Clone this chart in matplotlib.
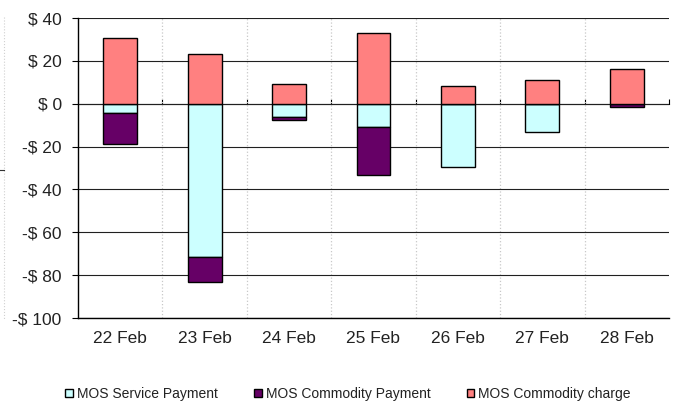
import numpy as np
import matplotlib
matplotlib.use("Agg")
from matplotlib import pyplot as plt
from matplotlib.ticker import FuncFormatter
from matplotlib.lines import Line2D

# data
days = ["22 Feb", "23 Feb", "24 Feb", "25 Feb", "26 Feb", "27 Feb", "28 Feb"]
service_payment = [-4.5, -71.5, -6.2, -11.0, -29.4, -13.2, -0.3]
commodity_payment = [-14.2, -11.8, -1.6, -22.1, 0.0, 0.0, -1.0]
commodity_charge = [30.8, 23.0, 9.2, 33.1, 8.1, 10.9, 16.3]

series = [
    ("MOS Service Payment", service_payment, "#CCFFFF"),
    ("MOS Commodity Payment", commodity_payment, "#660066"),
    ("MOS Commodity charge", commodity_charge, "#FF8080"),
]

plt.rcParams["font.family"] = ["Liberation Sans", "DejaVu Sans"]

fig = plt.figure(figsize=(6.74, 4.03), dpi=100)
ax = fig.add_axes([78 / 674, 1 - 318 / 403, (669 - 78) / 674, 300 / 403])

x = np.arange(len(days))
pos_base = np.zeros(len(days))
neg_base = np.zeros(len(days))
for name, vals, col in series:
    vals = np.array(vals, dtype=float)
    bottom = np.where(vals >= 0, pos_base, neg_base)
    ax.bar(x, vals, width=0.40, bottom=bottom, color=col, edgecolor="black",
           linewidth=1.0, label=name, zorder=3)
    pos_base = pos_base + np.clip(vals, 0, None)
    neg_base = neg_base + np.clip(vals, None, 0)

ax.set_xlim(-0.5, len(days) - 0.5)
ax.set_ylim(-100, 40)
ax.set_yticks(np.arange(-100, 41, 20))

def money(v, pos):
    v = int(round(v))
    return "-$ %d" % abs(v) if v < 0 else "$ %d" % v

ax.yaxis.set_major_formatter(FuncFormatter(money))
ax.set_xticks(x)
ax.set_xticklabels(days)
ax.tick_params(axis="x", length=0, pad=9.5, labelsize=12.5, labelcolor="#222222")
ax.tick_params(axis="y", length=4.3, width=0.8, pad=7.4, labelsize=12.5,
               labelcolor="#222222")

# category separators
ax.set_xticks(np.arange(0.5, len(days) - 1, 1.0), minor=True)
ax.tick_params(axis="x", which="minor", length=0)
ax.grid(which="minor", axis="x", color="#c8c8c8", linestyle=":", linewidth=0.9, zorder=0)
ax.grid(which="major", axis="y", color="#202020", linewidth=0.8, zorder=1)

for s in ["top", "right"]:
    ax.spines[s].set_visible(False)
ax.spines["left"].set_linewidth(1.0)
ax.spines["bottom"].set_linewidth(1.0)

# the category axis crosses at zero, labels sit at the bottom
zero_axis = ax.secondary_xaxis(100 / 140)
zero_axis.set_xticks(np.arange(0.5, len(days), 1.0))
zero_axis.set_xticklabels([])
zero_axis.tick_params(direction="out", length=3.8, width=0.8)
zero_axis.spines["bottom"].set_linewidth(0.8)

ax.legend(loc="center", bbox_to_anchor=(348 / 674, 9 / 403), bbox_transform=fig.transFigure,
          ncol=3, frameon=False, fontsize=10, handlelength=0.55, handleheight=0.55,
          handletextpad=0.3, columnspacing=2.6, labelcolor="#222222")

# cut-off edge of a neighbouring element at the far left
fig.add_artist(Line2D([4 / 674, 4 / 674], [1 - 17 / 403, 1 - 320 / 403],
                      color="#d0d0d0", linewidth=0.8, linestyle=":"))
fig.add_artist(Line2D([0, 4 / 674], [1 - 170 / 403, 1 - 170 / 403],
                      color="#333333", linewidth=0.8))

fig.savefig("out.png", dpi=100)
